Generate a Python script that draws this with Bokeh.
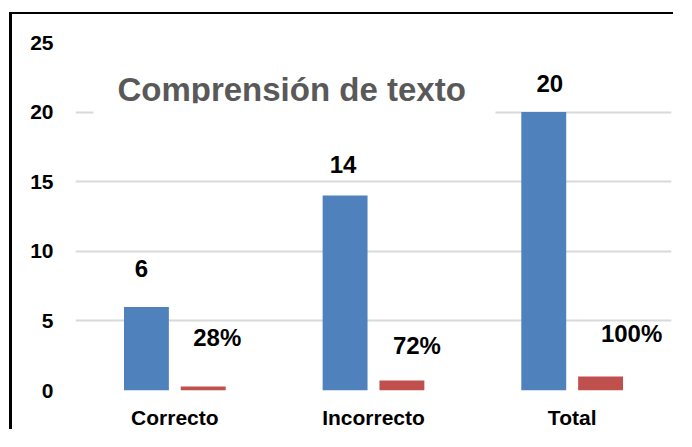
from bokeh.plotting import figure
from bokeh.models import ColumnDataSource, Label, BoxAnnotation, SingleIntervalTicker, FactorRange
from bokeh.transform import dodge
from bokeh.core.properties import value
from bokeh.embed import file_html
from bokeh.resources import INLINE

# ---- data ----
categories = ["Correcto", "Incorrecto", "Total"]
counts = [6, 14, 20]
shares = [0.28, 0.72, 1.00]
count_labels = ["6", "14", "20"]
share_labels = ["28%", "72%", "100%"]
title_text = "Comprensión de texto"

# ---- label placement (pixels, layout only) ----
count_dx = [-5, -2, 6]
count_dy = [38, 31, 29]
share_dx = [14, 15, 31]
share_dy = [49, 35, 43]

BLUE = "#4F81BD"
RED = "#C0504D"
FONT = "Liberation Sans"

src = ColumnDataSource(dict(
    cat=categories, counts=counts, shares=shares,
    count_labels=count_labels, share_labels=share_labels,
    cdx=count_dx, cdy=[-d for d in count_dy],
    sdx=share_dx, sdy=[-d for d in share_dy],
))

p = figure(x_range=FactorRange(*categories), y_range=(0, 25),
           width=664, height=417, output_backend="svg", toolbar_location=None,
           min_border_left=63, min_border_top=28, min_border_right=5, min_border_bottom=39)
p.styles = {"border-top": "2px solid black", "border-left": "3px solid black",
            "margin-top": "12px", "margin-left": "9px"}
p.outline_line_color = None
p.background_fill_color = "white"
p.border_fill_color = "white"

off = 0.143
w = 0.226
p.vbar(x=dodge("cat", -off, range=p.x_range), top="counts", width=w, bottom=0,
       source=src, fill_color=BLUE, line_color=None)
p.vbar(x=dodge("cat", off, range=p.x_range), top="shares", width=w, bottom=0,
       source=src, fill_color=RED, line_color=None)

p.text(x=dodge("cat", -off, range=p.x_range), y="counts", text="count_labels",
       x_offset="cdx", y_offset="cdy", source=src,
       text_font=value(FONT), text_font_style="bold", text_font_size="24px",
       text_align="center", text_baseline="middle", text_color="black")
p.text(x=dodge("cat", off, range=p.x_range), y="shares", text="share_labels",
       x_offset="sdx", y_offset="sdy", source=src,
       text_font=value(FONT), text_font_style="bold", text_font_size="24px",
       text_align="center", text_baseline="middle", text_color="black")

# title inside the plot area
p.add_layout(Label(x=0.211, y=21.64, text=title_text, text_font=FONT,
                   text_font_style="bold", text_font_size="33px",
                   text_color="#595959", text_baseline="middle"))
p.add_layout(BoxAnnotation(left=0.0906, right=2.114, bottom=19.71, top=20.64,
                           fill_color="white", fill_alpha=1.0, line_color=None))

# axes
p.yaxis.ticker = SingleIntervalTicker(interval=5)
for ax in (p.xaxis, p.yaxis):
    ax.axis_line_color = None
    ax.major_tick_line_color = None
    ax.minor_tick_line_color = None
    ax.major_tick_out = 0
    ax.major_tick_in = 0
    ax.minor_tick_out = 0
    ax.minor_tick_in = 0
    ax.major_label_text_font = FONT
    ax.major_label_text_font_style = "bold"
    ax.major_label_text_font_size = "21px"
    ax.major_label_text_color = "black"
p.yaxis.major_label_standoff = 22
p.xaxis.major_label_standoff = 15

p.xgrid.grid_line_color = None
p.ygrid.grid_line_color = "#D9D9D9"
p.ygrid.grid_line_width = 2
p.x_range.range_padding = 0

open("out.html", "w").write(file_html(p, INLINE))
